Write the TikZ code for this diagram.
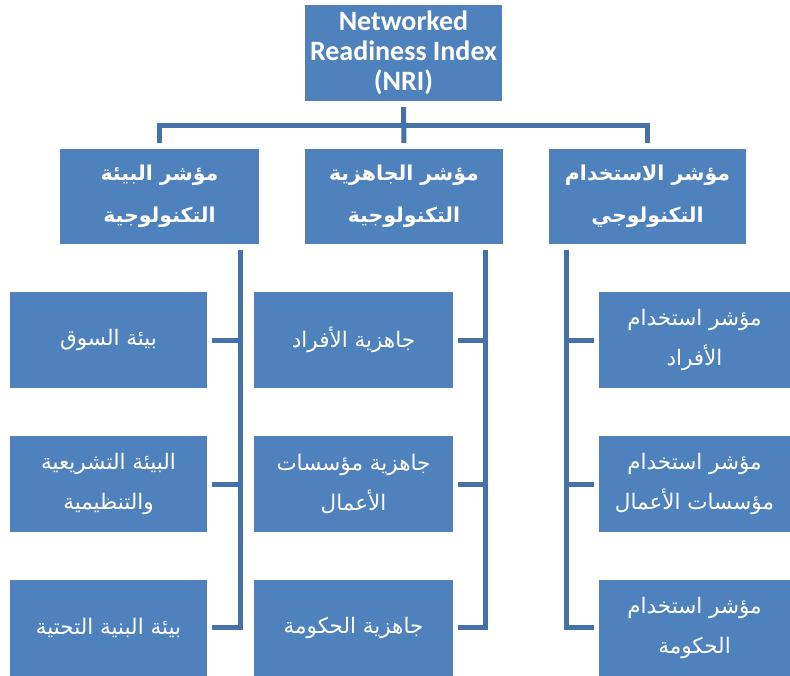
\documentclass[tikz,border=0pt]{standalone}
\usepackage{fontspec}
\setmainfont{Carlito}
\newfontfamily\arabicfont[Script=Arabic]{DejaVu Sans}
\TeXXeTstate=1
\usetikzlibrary{positioning}
\definecolor{boxblue}{HTML}{4F81BD}
\definecolor{lineblue}{HTML}{4571A7}
\newcommand{\ar}[1]{\beginR #1\endR}

\begin{document}
\begin{tikzpicture}[x=1pt,y=-1pt,
  box/.style={fill=boxblue, text=white, align=center, inner sep=0pt, minimum width=197pt, minimum height=96pt},
  head/.style={box, font=\bfseries\fontsize{28}{30}\selectfont},
  group/.style={box, minimum height=95pt, font=\arabicfont\bfseries\fontsize{20.5}{42}\selectfont},
  item/.style={box, font=\arabicfont\fontsize{21.5}{40}\selectfont},
  link/.style={draw=lineblue, line width=5pt}]
\useasboundingbox (0,0) rectangle (790,675);

\node[head] (nri) at (403.5,53) {Networked\\Readiness Index\\(NRI)};

\node[group, minimum width=199pt] (env) at (159.5,196.5) {\ar{مؤشر البيئة}\\\ar{التكنولوجية}};
\node[group, minimum width=198pt] (rdy) at (404,196.5) {\ar{مؤشر الجاهزية}\\\ar{التكنولوجية}};
\node[group] (use) at (647.5,196.5) {\ar{مؤشر الاستخدام}\\\ar{التكنولوجي}};

\node[item] (market) at (108.5,340) {\ar{بيئة السوق}};
\node[item, below=48pt of market] (legal) {\ar{البيئة التشريعية}\\\ar{والتنظيمية}};
\node[item, below=47pt of legal] (infra) {\ar{بيئة البنية التحتية}};

\node[item, minimum width=199pt] (indiv) at (353.5,340) {\ar{جاهزية الأفراد}};
\node[item, minimum width=199pt, below=48pt of indiv] (biz) {\ar{جاهزية مؤسسات}\\\ar{الأعمال}};
\node[item, minimum width=199pt, below=47pt of biz] (gov) {\ar{جاهزية الحكومة}};

\node[item, minimum width=191pt] (useind) at (694.5,340) {\ar{مؤشر استخدام}\\\ar{الأفراد}};
\node[item, minimum width=191pt, below=48pt of useind] (usebiz) {\ar{مؤشر استخدام}\\\ar{مؤسسات الأعمال}};
\node[item, minimum width=191pt, below=47pt of usebiz] (usegov) {\ar{مؤشر استخدام}\\\ar{الحكومة}};

\coordinate (hub) at (403,125);
\coordinate (envdrop) at (240,250);
\coordinate (rdydrop) at (485,250);
\coordinate (usedrop) at (566,250);

\draw[link, shorten <=6pt, shorten >=6pt] (nri) -- (rdy);
\draw[link, shorten <=6pt, shorten >=6pt] (env.north) |- (hub) -| (use.north);

\draw[link, shorten >=5pt] (envdrop) |- (infra.east);
\draw[link, shorten >=5pt] (envdrop |- market) -- (market.east);
\draw[link, shorten >=5pt] (envdrop |- legal) -- (legal.east);

\draw[link, shorten >=5pt] (rdydrop) |- (gov.east);
\draw[link, shorten >=5pt] (rdydrop |- indiv) -- (indiv.east);
\draw[link, shorten >=5pt] (rdydrop |- biz) -- (biz.east);

\draw[link, shorten >=5pt] (usedrop) |- (usegov.west);
\draw[link, shorten >=5pt] (usedrop |- useind) -- (useind.west);
\draw[link, shorten >=5pt] (usedrop |- usebiz) -- (usebiz.west);
\end{tikzpicture}
\end{document}
